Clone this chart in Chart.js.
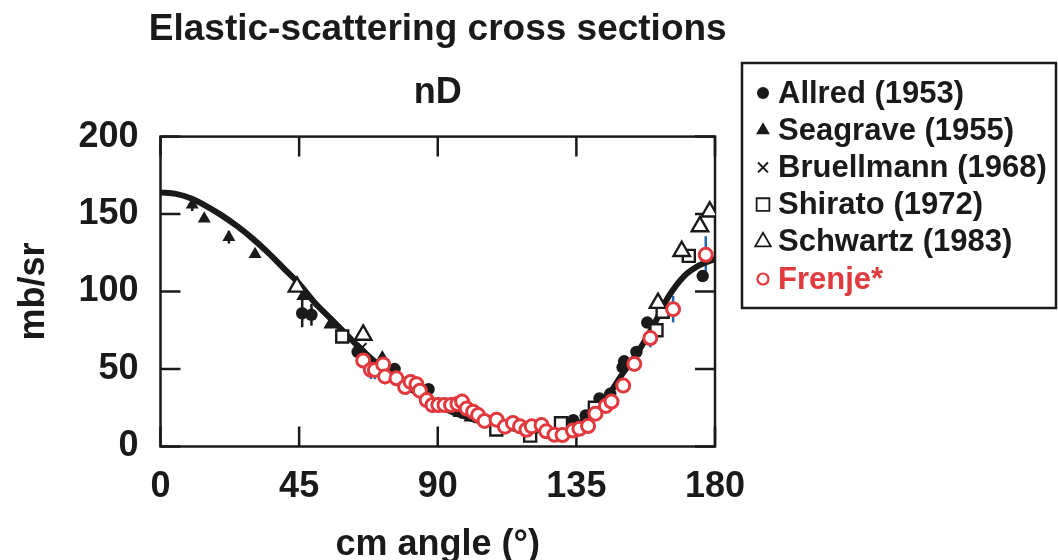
<!DOCTYPE html>
<html><head><meta charset="utf-8">
<script src="https://cdn.jsdelivr.net/npm/chart.js@4.4.1/dist/chart.umd.min.js"></script>
<style>html,body{margin:0;padding:0;background:#fff;overflow:hidden}</style>
</head><body>
<canvas id="c" width="1058" height="560"></canvas>
<script>
// ---- tick labels ----
const xTicks = [0, 45, 90, 135, 180];
const yTicks = [0, 50, 100, 150, 200];

// ---- theory curve ----
const theoryAngle = [0, 5, 10, 15, 20, 25, 30, 35, 40, 45, 50, 55, 60, 65, 70, 75, 80, 85, 90, 95, 100, 105, 110, 115, 120, 125, 130, 135, 140, 145, 150, 155, 160, 165, 170, 175, 180];
const theoryValue = [164, 163, 160, 155, 149, 142, 134, 125, 115, 105, 93, 83, 73, 63, 54, 46, 39, 32, 27, 22, 18.5, 15.5, 13, 11.5, 10.5, 10.5, 11, 14, 21, 32, 47, 61, 78, 97, 110, 117, 121];

// ---- Allred (1953) ----
const allredAngle = [46, 49, 64, 76, 87, 134, 138, 142.5, 146, 150, 150.5, 154.5, 158, 176];
const allredValue = [86, 85, 61, 50, 37, 17, 20, 31, 34, 51, 55, 61, 80, 110];
const allredError = [9, 7, 0, 0, 0, 0, 0, 0, 0, 0, 0, 0, 0, 0];

// ---- Seagrave (1955) ----
const seagraveAngle = [10.3, 14.2, 22.2, 30.7, 46.2, 55, 72, 97, 100.5];
const seagraveValue = [156, 147, 135, 124, 97, 78.5, 57.5, 21.5, 18.5];
const seagraveError = [4, 0, 4, 0, 0, 0, 3, 0, 0];

// ---- Bruellmann (1968) ----
const bruellmannAngle = [65.5, 98.5, 103];
const bruellmannValue = [64, 21, 18];

// ---- Shirato (1972) ----
const shiratoAngle = [59, 109, 120, 130, 141, 161, 163, 171.5];
const shiratoValue = [71, 11, 7, 15, 25, 75, 87, 123];

// ---- Schwartz (1983) ----
const schwartzAngle = [44.3, 65.8, 161.5, 169.2, 175.1, 178.3];
const schwartzValue = [103, 72, 92.5, 126, 142, 151.5];

// ---- Frenje* ----
const frenjeAngle = [65.8, 68.3, 69.6, 72.3, 72.9, 76.6, 79.4, 81.2, 83.1, 84.2, 86.4, 88.3, 90.2, 92.2, 94.3, 96.4, 97.9, 99.4, 101.5, 103.1, 105.2, 109.1, 111.8, 114.4, 116.7, 118.8, 120.5, 123.7, 125.2, 127.9, 130.5, 133.9, 136, 138.8, 141.2, 144.6, 146.4, 150.2, 153.8, 159, 166.4, 177];
const frenjeValue = [55.5, 49.5, 49.4, 53, 45.2, 44, 38.4, 41.7, 40.2, 36, 30, 26.8, 26.8, 26.8, 26.8, 27.5, 29, 24.5, 22.5, 20.3, 16.5, 17.3, 12.8, 15.2, 13, 10.8, 13, 13.8, 9.8, 7.6, 7.4, 10.3, 11.4, 13.2, 21.2, 26.2, 29, 39.3, 53.3, 70, 88.6, 123.7];
const frenjeError = [5, 6, 6, 5, 5, 5, 5, 5, 5, 5, 4, 5, 5, 5, 5, 5, 5, 5, 4, 4, 4, 5, 4, 4, 4, 4, 4, 4, 4, 4, 4, 3, 3, 3, 3, 3, 3, 3, 4, 6, 8.5, 12];

// ---- legend labels ----
const legendLabels = ['Allred (1953)', 'Seagrave (1955)', 'Bruellmann (1968)', 'Shirato (1972)', 'Schwartz (1983)', 'Frenje*'];

const FONT = '"Liberation Sans", Arial, Helvetica, sans-serif';
const INK = '#1a1a1a';
const RED = '#e0393e';
const BLUE = '#1f64b5';

function pts(xs, ys) { return xs.map((x, i) => ({x: x, y: ys[i]})); }

const datasets = [
  {label: 'theory', type: 'line', data: pts(theoryAngle, theoryValue), borderColor: INK, borderWidth: 6,
   pointRadius: 0, cubicInterpolationMode: 'monotone', fill: false, order: 10, showLine: true},
  {label: legendLabels[0], data: pts(allredAngle, allredValue), errors: allredError, errColor: INK,
   pointStyle: 'circle', pointRadius: 6.2, backgroundColor: INK, borderColor: INK, borderWidth: 0, order: 6},
  {label: legendLabels[1], data: pts(seagraveAngle, seagraveValue), errors: seagraveError, errColor: INK,
   pointStyle: 'triangle', pointRadius: 7.5, backgroundColor: INK, borderColor: INK, borderWidth: 0, order: 5},
  {label: legendLabels[2], data: pts(bruellmannAngle, bruellmannValue),
   pointStyle: 'crossRot', pointRadius: 6, backgroundColor: INK, borderColor: INK, borderWidth: 2, order: 4},
  {label: legendLabels[3], data: pts(shiratoAngle, shiratoValue),
   pointStyle: 'rect', pointRadius: 8.5, backgroundColor: '#fff', borderColor: INK, borderWidth: 2.4, order: 3},
  {label: legendLabels[4], data: pts(schwartzAngle, schwartzValue),
   pointStyle: 'triangle', pointRadius: 9.5, backgroundColor: '#fff', borderColor: INK, borderWidth: 2.4, order: 2},
  {label: legendLabels[5], data: pts(frenjeAngle, frenjeValue), errors: frenjeError, errColor: BLUE,
   pointStyle: 'circle', pointRadius: 6.5, backgroundColor: '#fff', borderColor: RED, borderWidth: 3, order: 0}
];

const decorPlugin = {
  id: 'decor',
  afterLayout(chart) {
    // let the title (centred over the plot) use more width than the plot itself
    const a = chart.chartArea, c = (a.left + a.right) / 2;
    [chart.titleBlock].forEach(b => {
      if (!b) return;
      b.left = c - 320; b.right = c + 320; b.width = 640;
    });
  },
  beforeDatasetsDraw(chart) {
    const ctx = chart.ctx, xs = chart.scales.x, ys = chart.scales.y, a = chart.chartArea;
    ctx.save();
    // error bars
    chart.data.datasets.forEach(ds => {
      if (!ds.errors) return;
      ctx.strokeStyle = ds.errColor; ctx.lineWidth = 2.5;
      ds.data.forEach((p, j) => {
        const e = ds.errors[j];
        if (!e) return;
        const px = xs.getPixelForValue(p.x);
        ctx.beginPath();
        ctx.moveTo(px, ys.getPixelForValue(p.y - e));
        ctx.lineTo(px, ys.getPixelForValue(p.y + e));
        ctx.stroke();
      });
    });
    // frame
    ctx.strokeStyle = INK; ctx.lineWidth = 2.5;
    ctx.strokeRect(a.left, a.top, a.right - a.left, a.bottom - a.top);
    // inward ticks on all sides
    const L = 20;
    ctx.beginPath();
    xTicks.forEach(v => {
      const px = xs.getPixelForValue(v);
      ctx.moveTo(px, a.bottom); ctx.lineTo(px, a.bottom - L);
      ctx.moveTo(px, a.top); ctx.lineTo(px, a.top + L);
    });
    yTicks.forEach(v => {
      const py = ys.getPixelForValue(v);
      ctx.moveTo(a.left, py); ctx.lineTo(a.left + L, py);
      ctx.moveTo(a.right, py); ctx.lineTo(a.right - L, py);
    });
    ctx.stroke();
    ctx.restore();
  },
  afterDraw(chart) {
    const ctx = chart.ctx;
    ctx.save();
    // legend box
    ctx.strokeStyle = INK; ctx.lineWidth = 2.5;
    ctx.strokeRect(742, 63, 314, 245);
    const mx = 763, tx = 778, y0 = 93, dy = 37.2;
    const marks = [
      {pointStyle: 'circle', radius: 6, fill: INK, stroke: INK, bw: 0},
      {pointStyle: 'triangle', radius: 8, fill: INK, stroke: INK, bw: 0},
      {pointStyle: 'crossRot', radius: 7, fill: INK, stroke: INK, bw: 2},
      {pointStyle: 'rect', radius: 9, fill: '#fff', stroke: INK, bw: 1.8},
      {pointStyle: 'triangle', radius: 9, fill: '#fff', stroke: INK, bw: 1.8},
      {pointStyle: 'circle', radius: 5.5, fill: '#fff', stroke: RED, bw: 2.2}
    ];
    ctx.font = 'bold 31px ' + FONT;
    ctx.textBaseline = 'middle';
    ctx.textAlign = 'left';
    legendLabels.forEach((lab, i) => {
      const y = y0 + i * dy;
      const m = marks[i];
      ctx.fillStyle = m.fill; ctx.strokeStyle = m.stroke; ctx.lineWidth = m.bw;
      Chart.helpers.drawPoint(ctx, {pointStyle: m.pointStyle, radius: m.radius, rotation: 0, borderWidth: m.bw}, mx, y);
      ctx.fillStyle = i === 5 ? RED : INK;
      ctx.fillText(lab, tx, y + 1);
    });
    ctx.restore();
  }
};

const tickFont = {family: FONT, size: 36, weight: 'bold'};

new Chart(document.getElementById('c'), {
  type: 'scatter',
  data: {datasets: datasets},
  options: {
    responsive: false,
    animation: false,
    devicePixelRatio: 1,
    layout: {padding: {left: 0, right: 343, top: 0, bottom: 0}},
    plugins: {
      legend: {display: false},
      tooltip: {enabled: false},
      title: {display: true, text: 'Elastic-scattering cross sections', fullSize: false, color: INK,
              font: {family: FONT, size: 37, weight: 'bold'}, padding: {top: 8, bottom: 0}},
      subtitle: {display: true, text: 'nD', fullSize: false, color: INK,
                 font: {family: FONT, size: 36, weight: 'bold'}, padding: {top: 19, bottom: 22}}
    },
    scales: {
      x: {
        type: 'linear', min: 0, max: 180,
        afterBuildTicks: s => { s.ticks = xTicks.map(v => ({value: v})); },
        afterFit: s => { s.height = 113.5; },
        grid: {display: false}, border: {display: false},
        ticks: {font: tickFont, color: INK, padding: 11, maxRotation: 0},
        title: {display: true, text: 'cm angle (°)', color: INK,
                font: {family: FONT, size: 36, weight: 'bold', lineHeight: 1}, padding: {top: 0, bottom: -3}}
      },
      y: {
        type: 'linear', min: 0, max: 200,
        afterBuildTicks: s => { s.ticks = yTicks.map(v => ({value: v})); },
        afterFit: s => { s.width = 160.5; },
        grid: {display: false}, border: {display: false},
        ticks: {font: tickFont, color: INK, padding: 14},
        title: {display: true, text: 'mb/sr', color: INK,
                font: {family: FONT, size: 36, weight: 'bold', lineHeight: 1}, padding: {top: 16, bottom: 0}}
      }
    }
  },
  plugins: [decorPlugin]
});
</script>
</body></html>
